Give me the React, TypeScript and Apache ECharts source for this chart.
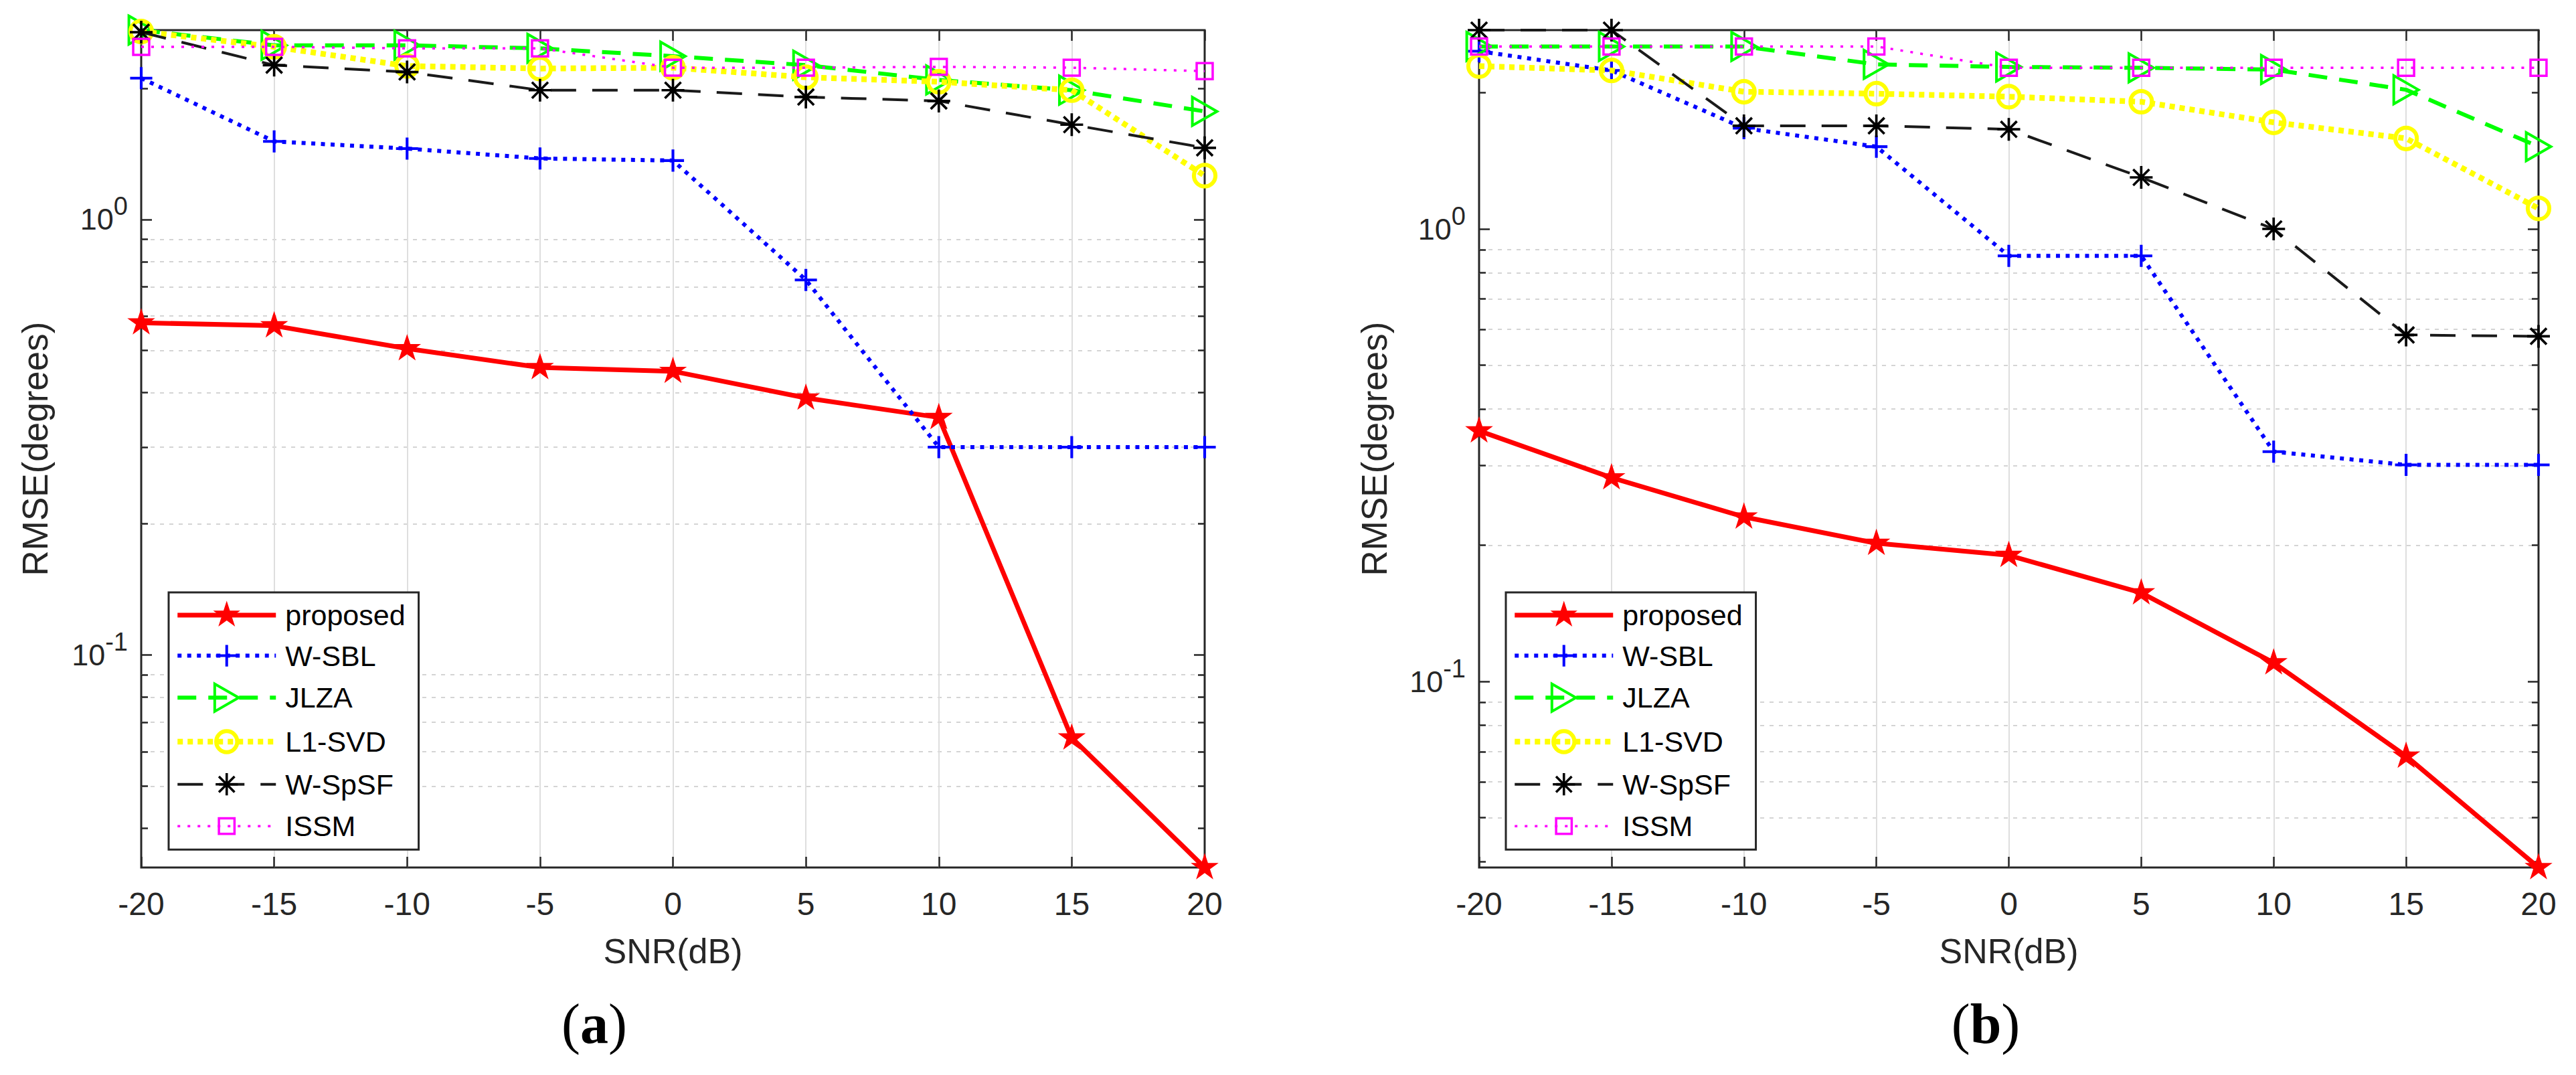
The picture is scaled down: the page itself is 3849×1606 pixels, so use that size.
import React, { useEffect, useRef } from "react";
import * as echarts from "echarts";

const WIDTH = 3849;
const HEIGHT = 1606;
const FONT = "'Liberation Sans', Arial, Helvetica, sans-serif";
const SERIF = "'Liberation Serif', 'Times New Roman', serif";
const AXIS_COLOR = "#262626";

// ---------- data ----------
const SNR = [-20, -15, -10, -5, 0, 5, 10, 15, 20];
const NAMES = ["proposed", "W-SBL", "JLZA", "L1-SVD", "W-SpSF", "ISSM"];

// panel (a)
const A_PROPOSED = [0.579, 0.57, 0.505, 0.457, 0.448, 0.389, 0.351, 0.0645, 0.0325];
const A_WSBL = [2.11, 1.51, 1.454, 1.38, 1.365, 0.726, 0.3, 0.3, 0.3];
const A_JLZA = [2.72, 2.51, 2.51, 2.47, 2.37, 2.26, 2.09, 1.98, 1.77];
const A_L1SVD = [2.7, 2.49, 2.25, 2.22, 2.23, 2.12, 2.07, 1.98, 1.26];
const A_WSPSF = [2.69, 2.26, 2.18, 1.98, 1.98, 1.91, 1.87, 1.65, 1.46];
const A_ISSM = [2.49, 2.49, 2.47, 2.47, 2.23, 2.23, 2.24, 2.23, 2.19];

// panel (b)
const B_PROPOSED = [0.358, 0.282, 0.231, 0.202, 0.19, 0.157, 0.11, 0.0684, 0.0388];
const B_WSBL = [2.47, 2.24, 1.67, 1.52, 0.872, 0.872, 0.322, 0.301, 0.301];
const B_JLZA = [2.53, 2.53, 2.53, 2.31, 2.28, 2.27, 2.25, 2.03, 1.52];
const B_L1SVD = [2.29, 2.24, 2.01, 1.99, 1.96, 1.91, 1.72, 1.585, 1.11];
const B_WSPSF = [2.75, 2.75, 1.69, 1.69, 1.66, 1.3, 1.0, 0.583, 0.579];
const B_ISSM = [2.53, 2.53, 2.53, 2.53, 2.27, 2.27, 2.27, 2.27, 2.27];

// axes
const X_MIN = -20;
const X_MAX = 20;
const X_STEP = 5;
const Y_MAJOR = [0.1, 1];
const Y_MINOR = [0.04, 0.05, 0.06, 0.07, 0.08, 0.09, 0.2, 0.3, 0.4, 0.5, 0.6, 0.7, 0.8, 0.9, 2];
const A_Y_RANGE = [0.0325, 2.72];
const B_Y_RANGE = [0.0388, 2.75];

// ---------- marker shapes (100x100 frame) ----------
const FRAME = "M0 0 M100 100 ";
function starPath(): string {
  const pts: string[] = [];
  for (let k = 0; k < 10; k++) {
    const r = k % 2 === 0 ? 47.5 : 47.5 * 0.382;
    const a = ((-90 + k * 36) * Math.PI) / 180;
    pts.push(`${(50 + r * Math.cos(a)).toFixed(2)} ${(50 + r * Math.sin(a)).toFixed(2)}`);
  }
  return "M" + pts.join(" L") + " Z";
}
function barsPath(angles: number[], L: number, T: number): string {
  let d = "";
  for (const deg of angles) {
    const a = (deg * Math.PI) / 180;
    const cx = Math.cos(a);
    const sy = Math.sin(a);
    const nx = -sy;
    const ny = cx;
    const p = [
      [L, T],
      [L, -T],
      [-L, -T],
      [-L, T],
    ].map(([l, t]) => `${(50 + l * cx + t * nx).toFixed(2)} ${(50 + l * sy + t * ny).toFixed(2)}`);
    d += "M" + p.join(" L") + " Z ";
  }
  return d;
}
const SYM_STAR = "path://" + FRAME + starPath();
const SYM_PLUS = "path://" + FRAME + barsPath([0, 90], 36, 4.5);
const SYM_TRI = "path://" + FRAME + "M10 4 L90 50 L10 96 Z";
const SYM_CIRC = "path://" + FRAME + "M85 50 A35 35 0 1 1 15 50 A35 35 0 1 1 85 50 Z";
const SYM_AST = "path://" + FRAME + barsPath([0, 45, 90, 135], 37, 4);
const SYM_SQ = "path://" + FRAME + "M24 24 L76 24 L76 76 L24 76 Z";
const SYMBOL_SIZE = 46;

const STYLES = [
  { color: "#ff0000", width: 7, type: "solid", symbol: SYM_STAR, fill: "#ff0000", borderColor: "#ff0000", borderWidth: 0 },
  { color: "#0000ff", width: 6, type: [6, 8.5], symbol: SYM_PLUS, fill: "#0000ff", borderColor: "#0000ff", borderWidth: 0 },
  { color: "#00ff00", width: 6, type: [28, 18], symbol: SYM_TRI, fill: "rgba(0,0,0,0)", borderColor: "#00ff00", borderWidth: 4 },
  { color: "#ffff00", width: 8.5, type: [8, 7], symbol: SYM_CIRC, fill: "rgba(0,0,0,0)", borderColor: "#ffff00", borderWidth: 6 },
  { color: "#1a1a1a", width: 4, type: [38, 24], symbol: SYM_AST, fill: "#000000", borderColor: "#000000", borderWidth: 0 },
  { color: "#ff00ff", width: 3.5, type: [4, 11], symbol: SYM_SQ, fill: "rgba(0,0,0,0)", borderColor: "#ff00ff", borderWidth: 3.5 },
];

const PANELS = [
  {
    values: [A_PROPOSED, A_WSBL, A_JLZA, A_L1SVD, A_WSPSF, A_ISSM],
    yRange: A_Y_RANGE,
    letter: "a",
    grid: { left: 211, top: 45, width: 1589, height: 1251 },
    legend: { left: 252, top: 885 },
    yTitleX: 52,
    captionX: 888,
  },
  {
    values: [B_PROPOSED, B_WSBL, B_JLZA, B_L1SVD, B_WSPSF, B_ISSM],
    yRange: B_Y_RANGE,
    letter: "b",
    grid: { left: 2210, top: 45, width: 1583, height: 1251 },
    legend: { left: 2250, top: 885 },
    yTitleX: 2053,
    captionX: 2967,
  },
];

function yLabel(v: number): string {
  const l = Math.log10(v);
  const e = Math.round(l);
  if (Math.abs(l - e) > 1e-6) return "";
  return `{b|10}{s|${e}}`;
}

function buildOption(): any {
  const grids: any[] = [];
  const xAxes: any[] = [];
  const yAxes: any[] = [];
  const legends: any[] = [];
  const series: any[] = [];
  const graphics: any[] = [];

  const tick = (len: number) => ({
    show: true,
    inside: true,
    length: len,
    lineStyle: { color: AXIS_COLOR, width: 2.5 },
  });

  PANELS.forEach((p, g) => {
    grids.push({
      ...p.grid,
      show: true,
      borderColor: AXIS_COLOR,
      borderWidth: 3,
      backgroundColor: "#ffffff",
      containLabel: false,
    });

    xAxes.push({
      gridIndex: g,
      type: "value",
      min: X_MIN,
      max: X_MAX,
      interval: X_STEP,
      position: "bottom",
      axisLine: { show: false, onZero: false },
      axisTick: tick(16),
      axisLabel: { fontSize: 48, lineHeight: 48, margin: 30, color: AXIS_COLOR, fontFamily: FONT },
      splitLine: {
        show: true,
        showMinLine: false,
        showMaxLine: false,
        lineStyle: { color: "#dedede", width: 2 },
      },
    });
    xAxes.push({
      gridIndex: g,
      type: "value",
      min: X_MIN,
      max: X_MAX,
      interval: X_STEP,
      position: "top",
      axisLine: { show: false, onZero: false },
      axisTick: tick(16),
      axisLabel: { show: false },
      splitLine: { show: false },
    });

    const yBase = {
      gridIndex: g,
      type: "log",
      logBase: 10,
      min: p.yRange[0],
      max: p.yRange[1],
      axisLine: { show: false, onZero: false },
    };
    yAxes.push({
      ...yBase,
      position: "left",
      axisTick: { ...tick(16), customValues: Y_MAJOR },
      axisLabel: {
        customValues: Y_MAJOR,
        formatter: yLabel,
        margin: 20,
        color: AXIS_COLOR,
        fontFamily: FONT,
        rich: {
          b: { fontSize: 45, lineHeight: 45, fontFamily: FONT, color: AXIS_COLOR, verticalAlign: "bottom" },
          s: {
            fontSize: 38,
            lineHeight: 38,
            fontFamily: FONT,
            color: AXIS_COLOR,
            verticalAlign: "bottom",
            padding: [6, 0, 23, 0],
          },
        },
      },
      splitLine: {
        show: true,
        showMinLine: false,
        showMaxLine: false,
        lineStyle: { color: "#dedede", width: 2 },
      },
    });
    yAxes.push({
      ...yBase,
      position: "left",
      axisTick: { ...tick(10), customValues: Y_MINOR },
      axisLabel: { show: false },
      splitLine: {
        show: true,
        showMinLine: false,
        showMaxLine: false,
        lineStyle: { color: "#d4d4d4", width: 2, type: [6, 8] },
      },
    });
    yAxes.push({
      ...yBase,
      position: "right",
      axisTick: { ...tick(16), customValues: Y_MAJOR },
      axisLabel: { show: false },
      splitLine: { show: false },
    });
    yAxes.push({
      ...yBase,
      position: "right",
      axisTick: { ...tick(10), customValues: Y_MINOR },
      axisLabel: { show: false },
      splitLine: { show: false },
    });

    NAMES.forEach((name, i) => {
      const st = STYLES[i];
      series.push({
        type: "line",
        name,
        xAxisIndex: 2 * g,
        yAxisIndex: 4 * g,
        data: SNR.map((x, k) => [x, p.values[i][k]]),
        symbol: st.symbol,
        symbolSize: SYMBOL_SIZE,
        showSymbol: true,
        clip: false,
        silent: true,
        lineStyle: { color: st.color, width: st.width, type: st.type },
        itemStyle: { color: st.fill, borderColor: st.borderColor, borderWidth: st.borderWidth },
        emphasis: { disabled: true },
        z: 3 + i * 0.1,
      });
    });

    legends.push({
      orient: "vertical",
      left: p.legend.left,
      top: p.legend.top,
      itemWidth: 147,
      itemHeight: 56,
      itemGap: 15.9,
      padding: [11.5, 20, 11, 9],
      borderColor: AXIS_COLOR,
      borderWidth: 3,
      borderRadius: 0,
      backgroundColor: "#ffffff",
      selectedMode: false,
      data: NAMES,
      textStyle: { fontSize: 43, fontFamily: FONT, color: "#000000", padding: [0, 0, 0, 9] },
      lineStyle: { width: "inherit" },
      itemStyle: { borderWidth: "inherit" },
      z: 10,
    });

    const cx = p.grid.left + p.grid.width / 2;
    const cy = p.grid.top + p.grid.height / 2;
    graphics.push({
      type: "text",
      x: p.yTitleX,
      y: cy,
      rotation: Math.PI / 2,
      style: {
        text: "RMSE(degrees)",
        x: 0,
        y: 0,
        font: `53px ${FONT}`,
        fill: AXIS_COLOR,
        align: "center",
        verticalAlign: "middle",
        textAlign: "center",
        textVerticalAlign: "middle",
      },
    });
    graphics.push({
      type: "text",
      x: cx,
      y: 1421,
      style: {
        text: "SNR(dB)",
        x: 0,
        y: 0,
        font: `52px ${FONT}`,
        fill: AXIS_COLOR,
        align: "center",
        verticalAlign: "middle",
        textAlign: "center",
        textVerticalAlign: "middle",
      },
    });
    graphics.push({
      type: "text",
      x: p.captionX,
      y: 1529,
      style: {
        text: `{p|(}{b|${p.letter}}{p|)}`,
        x: 0,
        y: 0,
        align: "center",
        verticalAlign: "middle",
        textAlign: "center",
        textVerticalAlign: "middle",
        rich: {
          p: { fontFamily: SERIF, fontSize: 84, fill: "#000000" },
          b: { fontFamily: SERIF, fontSize: 84, fontWeight: "bold", fill: "#000000" },
        },
      },
    });
  });

  return {
    animation: false,
    backgroundColor: "#ffffff",
    grid: grids,
    xAxis: xAxes,
    yAxis: yAxes,
    legend: legends,
    series,
    graphic: { elements: graphics },
  };
}

export default function App() {
  const ref = useRef<HTMLDivElement>(null);
  useEffect(() => {
    if (!ref.current) return;
    const chart = echarts.init(ref.current, undefined, { renderer: "svg", width: WIDTH, height: HEIGHT });
    chart.setOption(buildOption());
    return () => {
      chart.dispose();
    };
  }, []);
  return (
    <div
      ref={ref}
      style={{ position: "fixed", left: 0, top: 0, width: WIDTH, height: HEIGHT, background: "#ffffff" }}
    />
  );
}
